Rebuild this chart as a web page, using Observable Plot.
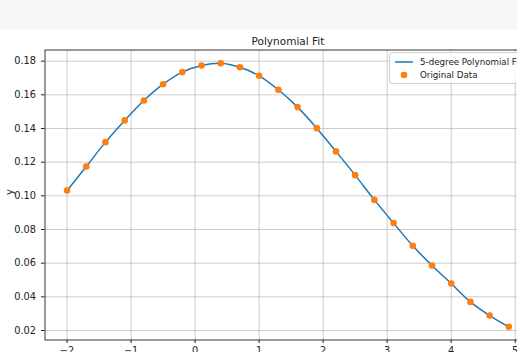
<!DOCTYPE html>
<html>
<head>
<meta charset="utf-8">
<script src="https://cdn.jsdelivr.net/npm/d3@7"></script>
<script src="https://cdn.jsdelivr.net/npm/@observablehq/plot@0.6"></script>
<style>
  html, body { margin: 0; padding: 0; background: #fff; }
  #wrap { position: relative; width: 517px; height: 352px; overflow: hidden; font-family: "DejaVu Sans", sans-serif; }
  #band { position: absolute; left: 0; top: 0; width: 517px; height: 30px; background: #f7f7f7; }
  #chart { position: absolute; left: 0; top: 0; width: 560px; }
  #chart svg { max-width: none !important; }
  #legend { position: absolute; left: 389px; top: 52px; width: 150px; height: 30px;
            border: 1px solid #d0d0d0; border-radius: 3px; background: rgba(255,255,255,0.8);
            font-size: 8.7px; color: #222; }
  .row { position: absolute; left: 0; height: 12px; line-height: 12px; white-space: nowrap; }
  .row span { position: absolute; left: 30px; top: 0; }
</style>
</head>
<body>
<div id="wrap">
  <div id="band"></div>
  <div id="chart"></div>
  <div id="legend">
    <div class="row" style="top:3px;width:150px;">
      <svg width="28" height="12" style="position:absolute;left:0;top:0"><line x1="5" x2="23" y1="6" y2="6" stroke="#1f77b4" stroke-width="1.5"/></svg>
      <span id="lab1"></span>
    </div>
    <div class="row" style="top:16px;width:150px;">
      <svg width="28" height="12" style="position:absolute;left:0;top:0"><circle cx="14" cy="6" r="3.3" fill="#ff7f0e"/></svg>
      <span id="lab2"></span>
    </div>
  </div>
</div>
<script>
// Data
const xValues = [-2.0, -1.7, -1.4, -1.1, -0.8, -0.5, -0.2, 0.1, 0.4, 0.7, 1.0, 1.3, 1.6, 1.9, 2.2, 2.5, 2.8, 3.1, 3.4, 3.7, 4.0, 4.3, 4.6, 4.9];
const yValues = [0.1032, 0.1174, 0.1319, 0.1448, 0.1566, 0.1663, 0.1735, 0.1774, 0.1788, 0.1764, 0.1713, 0.1630, 0.1527, 0.1402, 0.1264, 0.1123, 0.0976, 0.0838, 0.0703, 0.0586, 0.0479, 0.0370, 0.0289, 0.0222];
const xTicks = [-2, -1, 0, 1, 2, 3, 4, 5];
const yTicks = [0.02, 0.04, 0.06, 0.08, 0.10, 0.12, 0.14, 0.16, 0.18];
const titleText = "Polynomial Fit";
const yLabel = "y";
const seriesNames = ["5-degree Polynomial Fit", "Original Data"];

document.getElementById("lab1").textContent = seriesNames[0];
document.getElementById("lab2").textContent = seriesNames[1];

const data = xValues.map((x, i) => ({x, y: yValues[i]}));

const chart = Plot.plot({
  width: 560,
  height: 352,
  marginLeft: 44.5,
  marginRight: 29.6,
  marginTop: 49.5,
  marginBottom: 12.5,
  style: {fontFamily: "DejaVu Sans", fontSize: "9.8px", color: "#222", background: "transparent", overflow: "visible", maxWidth: "none"},
  x: {domain: [-2.345, 5.245]},
  y: {domain: [0.01437, 0.18663]},
  marks: [
    Plot.gridX(xTicks, {stroke: "#b0b0b0", strokeOpacity: 0.8, strokeWidth: 0.8}),
    Plot.gridY(yTicks, {stroke: "#b0b0b0", strokeOpacity: 0.8, strokeWidth: 0.8}),
    Plot.line(data, {x: "x", y: "y", stroke: "#1f77b4", strokeWidth: 1.5, curve: "catmull-rom"}),
    Plot.dot(data, {x: "x", y: "y", r: 3.3, fill: "#ff7f0e", stroke: "none"}),
    Plot.frame({stroke: "#222", strokeWidth: 0.9}),
    Plot.axisX({ticks: xTicks, tickSize: 3.5, tickPadding: 3.5, tickFormat: d3.format("d"), label: null}),
    Plot.axisY({ticks: yTicks, tickSize: 3.5, tickPadding: 5.5, tickFormat: d3.format(".2f"), label: null}),
    Plot.text([yLabel], {frameAnchor: "left", dx: -35.5, rotate: -90, fontSize: 10, fill: "#222"}),
    Plot.text([titleText], {frameAnchor: "top", dy: -8.5, lineAnchor: "middle", fontSize: 10.5, fill: "#222"})
  ]
});
document.getElementById("chart").appendChild(chart);
</script>
</body>
</html>
